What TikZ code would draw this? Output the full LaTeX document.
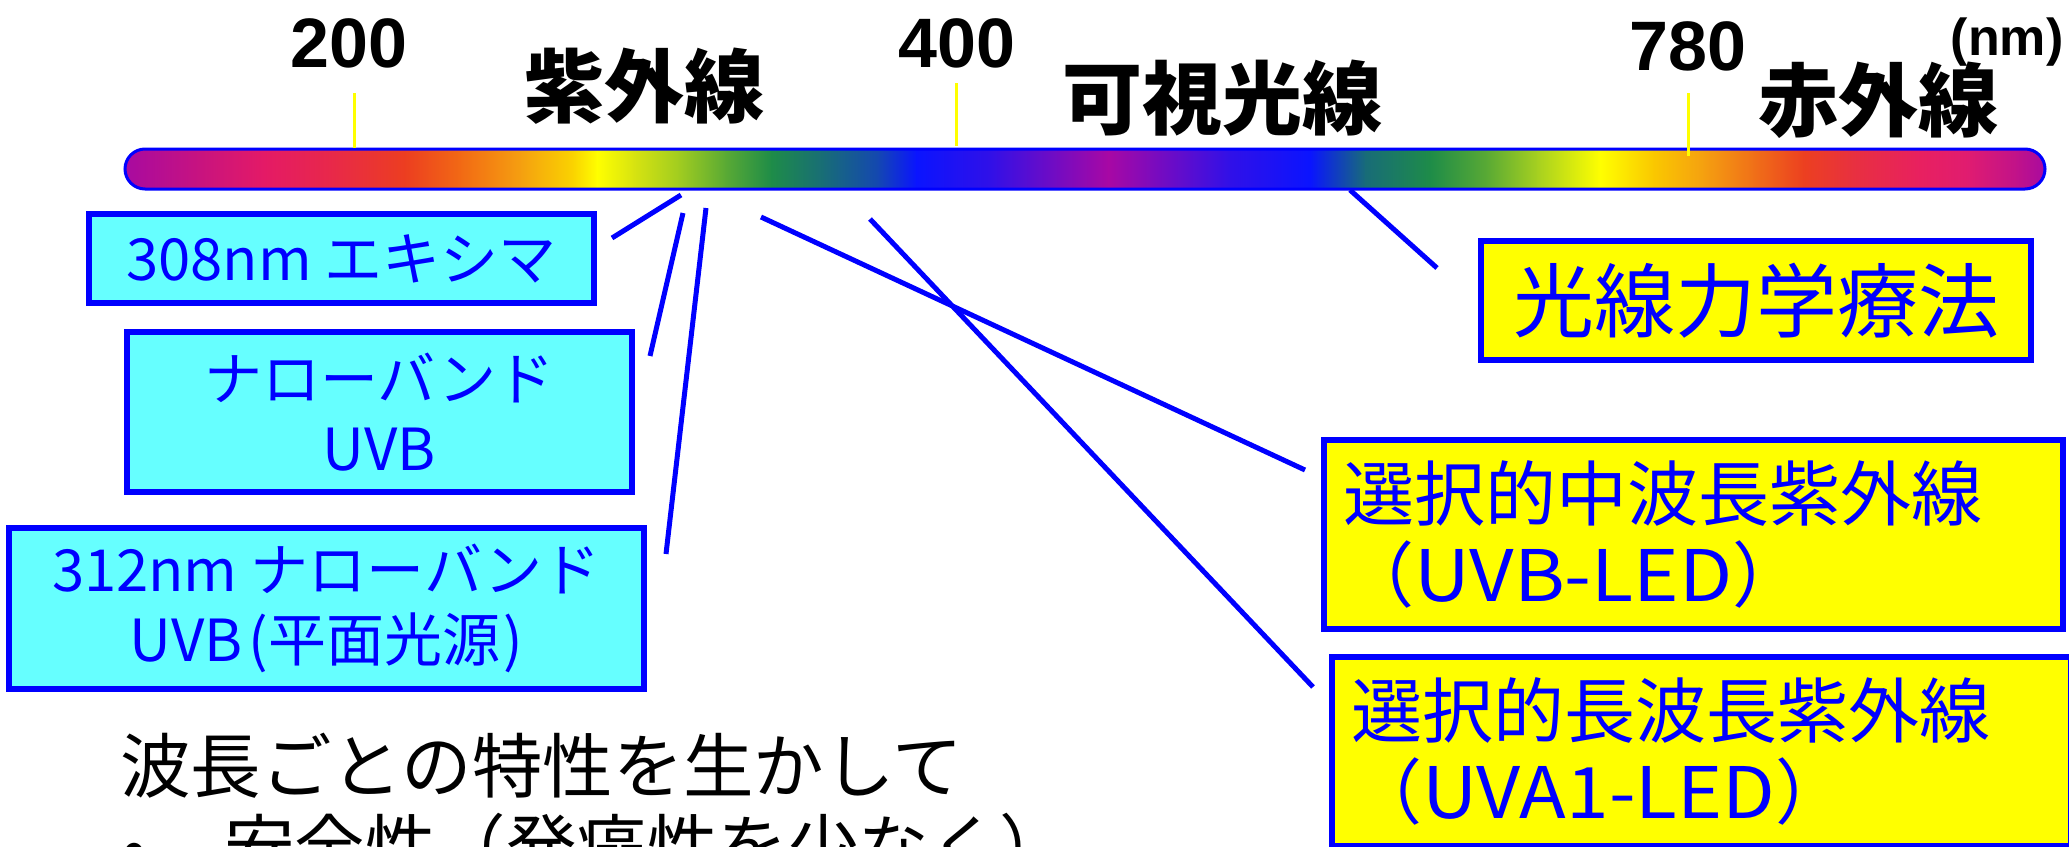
\documentclass[tikz,border=0pt]{standalone}
\usepackage{fontspec}
\newfontfamily\jp{Noto Sans CJK JP}
\newfontfamily\lat{Liberation Sans}
\definecolor{cyanbox}{HTML}{66FFFF}
\definecolor{pureblue}{HTML}{0000FF}
\definecolor{pureyellow}{HTML}{FFFF00}
\definecolor{s0}{HTML}{A80AA0}
\definecolor{s1}{HTML}{C8137F}
\definecolor{s2}{HTML}{E41A66}
\definecolor{s3}{HTML}{E8284A}
\definecolor{s4}{HTML}{EC3E20}
\definecolor{s5}{HTML}{F26A14}
\definecolor{s6}{HTML}{F5A010}
\definecolor{s7}{HTML}{FAD400}
\definecolor{s8}{HTML}{FFFF00}
\definecolor{s9}{HTML}{D8E410}
\definecolor{s10}{HTML}{A0CC20}
\definecolor{s11}{HTML}{5AAA34}
\definecolor{s12}{HTML}{1E8C48}
\definecolor{s13}{HTML}{186C78}
\definecolor{s14}{HTML}{1448B0}
\definecolor{s15}{HTML}{0A14FF}
\definecolor{s16}{HTML}{3010E8}
\definecolor{s17}{HTML}{A808A4}
\definecolor{s18}{HTML}{3010E8}
\definecolor{s19}{HTML}{0A14FF}
\definecolor{s20}{HTML}{186C78}
\definecolor{s21}{HTML}{1E8C48}
\definecolor{s22}{HTML}{5AAA34}
\definecolor{s23}{HTML}{A6D020}
\definecolor{s24}{HTML}{FFFF00}
\definecolor{s25}{HTML}{FAC800}
\definecolor{s26}{HTML}{F5A010}
\definecolor{s27}{HTML}{F07018}
\definecolor{s28}{HTML}{EC4020}
\definecolor{s29}{HTML}{E83040}
\definecolor{s30}{HTML}{E82060}
\definecolor{s31}{HTML}{E01C70}
\definecolor{s32}{HTML}{C0128A}
\definecolor{s33}{HTML}{A80AA0}
\begin{document}
\begin{tikzpicture}[x=1pt,y=-1pt,
  cbox/.style={draw=pureblue, line width=6pt, fill=cyanbox, text=pureblue, inner sep=0pt, align=center, font=\jp\fontsize{58}{70}\selectfont},
  ybox/.style={draw=pureblue, line width=6pt, fill=pureyellow, text=pureblue, inner sep=0pt},
  ledbox/.style={ybox, text width=701pt, inner xsep=19pt, minimum height=189pt, align=left, font=\jp\fontsize{71}{81}\selectfont},
  link/.style={draw=pureblue, line width=5pt},
  ticky/.style={draw=pureyellow, line width=3pt},
  head/.style={font=\jp\bfseries\fontsize{80}{96}\selectfont, anchor=base, inner sep=0pt},
  num/.style={font=\lat\bfseries\fontsize{70}{84}\selectfont, anchor=base, inner sep=0pt},
  note/.style={font=\jp\fontsize{70.5}{81}\selectfont, anchor=base west, inner sep=0pt}
]
\useasboundingbox (0,0) rectangle (2069,846);
\clip (0,0) rectangle (2069,846);
% spectrum bar
\begin{scope}
\clip[rounded corners=20pt] (125,149) rectangle (2045,189);
\foreach \xa/\xb/\ca/\cb in {125/200/s0/s1, 200/264/s1/s2, 264/330/s2/s3, 330/405/s3/s4, 405/461/s4/s5, 461/521/s5/s6, 521/573/s6/s7, 573/597/s7/s8, 597/633/s8/s9, 633/679/s9/s10, 679/725/s10/s11, 725/771/s11/s12, 771/824/s12/s13, 824/877/s13/s14, 877/916/s14/s15, 916/989/s15/s16, 989/1108/s16/s17, 1108/1230/s17/s18, 1230/1310/s18/s19, 1310/1365/s19/s20, 1365/1430/s20/s21, 1430/1487/s21/s22, 1487/1537/s22/s23, 1537/1600/s23/s24, 1600/1653/s24/s25, 1653/1703/s25/s26, 1703/1753/s26/s27, 1753/1803/s27/s28, 1803/1853/s28/s29, 1853/1920/s29/s30, 1920/1967/s30/s31, 1967/2017/s31/s32, 2017/2045/s32/s33}
  \shade[left color=\ca, right color=\cb] (\xa,145) rectangle (\xb+1,193);
\end{scope}
\node[draw=pureblue, line width=3pt, rounded corners=20pt, minimum width=1920pt, minimum height=40pt, inner sep=0pt] (bar) at (1085,169) {};
% ticks
\coordinate (t200a) at (354,93);  \coordinate (t200b) at (354,148);
\coordinate (t400a) at (956,83);  \coordinate (t400b) at (956,146);
\coordinate (t780a) at (1688,93); \coordinate (t780b) at (1688,156);
\draw[ticky] (t200a) -- (t200b);
\draw[ticky] (t400a) -- (t400b);
\draw[ticky] (t780a) -- (t780b);
% labels
\node[num] (n200) at (349,67) {200};
\node[num] (n400) at (957,67) {400};
\node[num] (n780) at (1688,70) {780};
\node[num, font=\lat\bfseries\fontsize{52}{60}\selectfont] (nm) at (2007,55) {(nm)};
\node[head] (uv) at (644,116) {紫外線};
\node[head] (vis) at (1222,128) {可視光線};
\node[head] (ir) at (1878,130) {赤外線};
% boxes
\node[cbox, minimum width=505pt, minimum height=89pt] (excimer) at (341.5,258.5) {308nm エキシマ};
\node[cbox, minimum width=505pt, minimum height=160pt] (nbuvb) at (379.5,412) {ナローバンド\\UVB};
\node[cbox, minimum width=635pt, minimum height=161pt] (flat) at (326.5,608.5) {312nm ナローバンド\\UVB\kern6pt(平面光源\kern3pt)};
\node[ybox, minimum width=550pt, minimum height=119pt, font=\jp\fontsize{81}{97}\selectfont] (pdt) at (1756,300.5) {光線力学療法};
\node[ledbox] (uvbled) at (1693.5,534.5) {選択的中波長紫外線\\（\scalebox{1.09}[1]{UVB-LED}）};
\node[ledbox] (uvaled) at (1701.5,751.5) {選択的長波長紫外線\\（\scalebox{1.08}[1]{UVA1-LED}）};
% connectors
\coordinate (a1) at (681,195);  \coordinate (a2) at (612,238);
\coordinate (b1) at (683,213);  \coordinate (b2) at (650,356);
\coordinate (c1) at (706,208);  \coordinate (c2) at (666,554);
\coordinate (d1) at (761,217);  \coordinate (d2) at (1305,470);
\coordinate (e1) at (870,219);  \coordinate (e2) at (1313,687);
\coordinate (f1) at (1350,190); \coordinate (f2) at (1437,268);
\draw[link] (a1) -- (a2);
\draw[link] (b1) -- (b2);
\draw[link] (c1) -- (c2);
\draw[link] (d1) -- (d2);
\draw[link] (e1) -- (e2);
\draw[link] (f1) -- (f2);
% note text
\node[note] (note1) at (120,792) {波長ごとの特性を生かして};
\node[note] (note2) at (122,873) {\makebox[102pt][l]{•}安全性（発癌性を少なく）};
\end{tikzpicture}
\end{document}
